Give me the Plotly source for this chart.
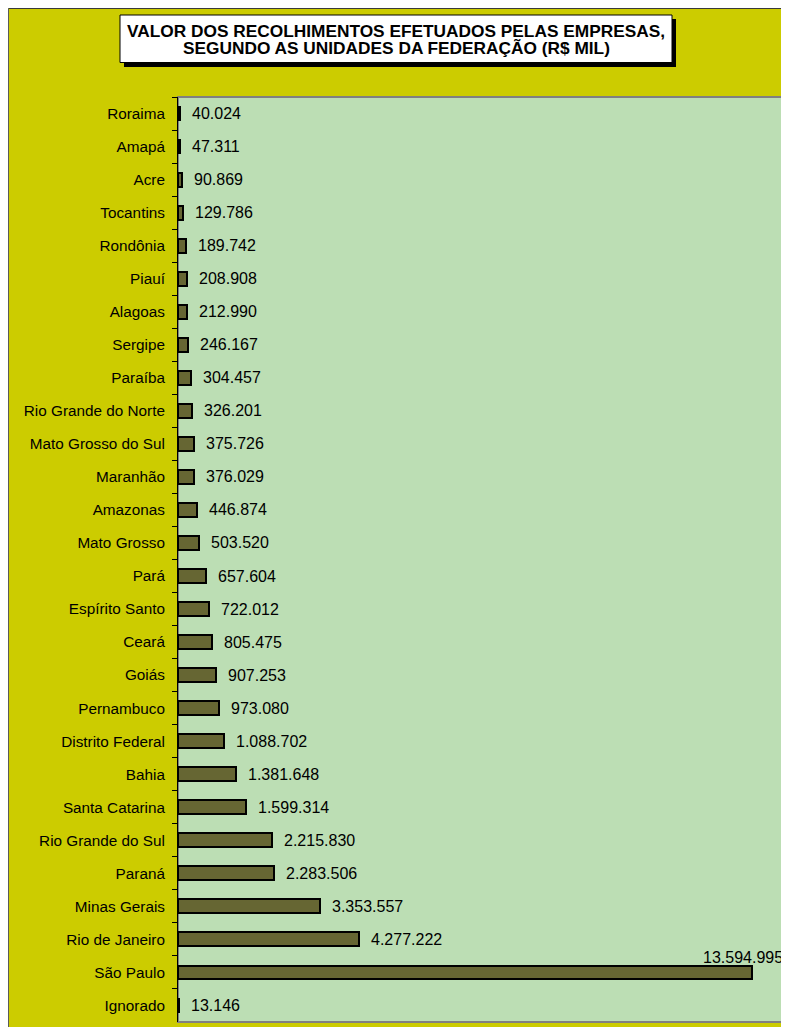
import plotly.graph_objects as go

states = ["Roraima", "Amapá", "Acre", "Tocantins", "Rondônia", "Piauí", "Alagoas",
          "Sergipe", "Paraíba", "Rio Grande do Norte", "Mato Grosso do Sul", "Maranhão",
          "Amazonas", "Mato Grosso", "Pará", "Espírito Santo", "Ceará", "Goiás",
          "Pernambuco", "Distrito Federal", "Bahia", "Santa Catarina", "Rio Grande do Sul",
          "Paraná", "Minas Gerais", "Rio de Janeiro", "São Paulo", "Ignorado"]
values = [40024, 47311, 90869, 129786, 189742, 208908, 212990,
          246167, 304457, 326201, 375726, 376029,
          446874, 503520, 657604, 722012, 805475, 907253,
          973080, 1088702, 1381648, 1599314, 2215830,
          2283506, 3353557, 4277222, 13594995, 13146]
title_lines = ["VALOR DOS RECOLHIMENTOS EFETUADOS PELAS EMPRESAS,",
               "SEGUNDO AS UNIDADES DA FEDERAÇÃO (R$ MIL)"]

# page has an 8px body margin; figure coordinates = page coordinates - 8
OFF = 8
W, H = 789 - OFF, 1027 - OFF
ML, MR, MT, MB = 178 - OFF, 3, 97 - OFF, 5
PW, PH = W - ML - MR, H - MT - MB

def px(x):  # page x -> paper
    return (x - OFF - ML) / PW

def py(y):  # page y -> paper
    return (H - MB - (y - OFF)) / PH

YELLOW = "#CCCC00"
PLOTBG = "#BCDEB4"
BAR = "#666633"
FONT = "Liberation Sans, Arial, sans-serif"

def fmt(v):
    return f"{v:,}".replace(",", ".")

fig = go.Figure(go.Bar(
    x=values, y=states, orientation="h", width=0.42,
    marker=dict(color=BAR, line=dict(color="black", width=2)),
    hoverinfo="skip",
))

annotations = []
max_v = max(values)
for s, v in zip(states, values):
    if v == max_v:
        annotations.append(dict(x=v, y=s, xref="x", yref="y", text=fmt(v), showarrow=False,
                                xanchor="right", yanchor="middle", xshift=33, yshift=15,
                                font=dict(family=FONT, size=16, color="black")))
    else:
        annotations.append(dict(x=v, y=s, xref="x", yref="y", text=fmt(v), showarrow=False,
                                xanchor="left", yanchor="middle", xshift=10,
                                font=dict(family=FONT, size=16, color="black")))

for i, t in enumerate(title_lines):
    annotations.append(dict(x=px(396), y=py(30.5 + i * 17.5), xref="paper", yref="paper",
                            text=f"<b>{t}</b>", showarrow=False, xanchor="center",
                            yanchor="middle",
                            font=dict(family=FONT, size=17.3, color="black")))

shapes = [
    # chart outer border lines (left / top)
    dict(type="line", xref="paper", yref="paper", x0=px(8.5), x1=px(800), y0=py(8.5), y1=py(8.5),
         line=dict(color="#3a3a3a", width=1)),
    dict(type="line", xref="paper", yref="paper", x0=px(8.5), x1=px(8.5), y0=py(8.5), y1=py(1040),
         line=dict(color="#5a5a5a", width=1)),
    # title shadow and box
    dict(type="rect", xref="paper", yref="paper", x0=px(124), x1=px(676), y0=py(67), y1=py(19),
         fillcolor="black", line=dict(width=0)),
    dict(type="rect", xref="paper", yref="paper", x0=px(120), x1=px(672), y0=py(62.5), y1=py(15),
         fillcolor="white", line=dict(color="black", width=1)),
    # plot area border
    dict(type="rect", xref="paper", yref="paper", x0=0, x1=1, y0=0, y1=1,
         line=dict(color="#808080", width=2), layer="below"),
]

fig.update_layout(
    width=W, height=H,
    margin=dict(l=ML, r=MR, t=MT, b=MB),
    paper_bgcolor=YELLOW, plot_bgcolor=PLOTBG,
    showlegend=False,
    bargap=0,
    annotations=annotations,
    shapes=shapes,
    font=dict(family=FONT, color="black"),
    xaxis=dict(range=[0, 14.39e6], showgrid=False, zeroline=False, showticklabels=False,
               ticks="", showline=False, fixedrange=True),
    yaxis=dict(autorange="reversed", type="category", showgrid=False, zeroline=False,
               ticks="outside", ticklen=5, tickwidth=1, tickcolor="black",
               tickson="boundaries", showline=True, linecolor="black", linewidth=1,
               ticklabelstandoff=9,
               tickfont=dict(family=FONT, size=15.3, color="black"), fixedrange=True),
)

fig.write_html("out.html")
